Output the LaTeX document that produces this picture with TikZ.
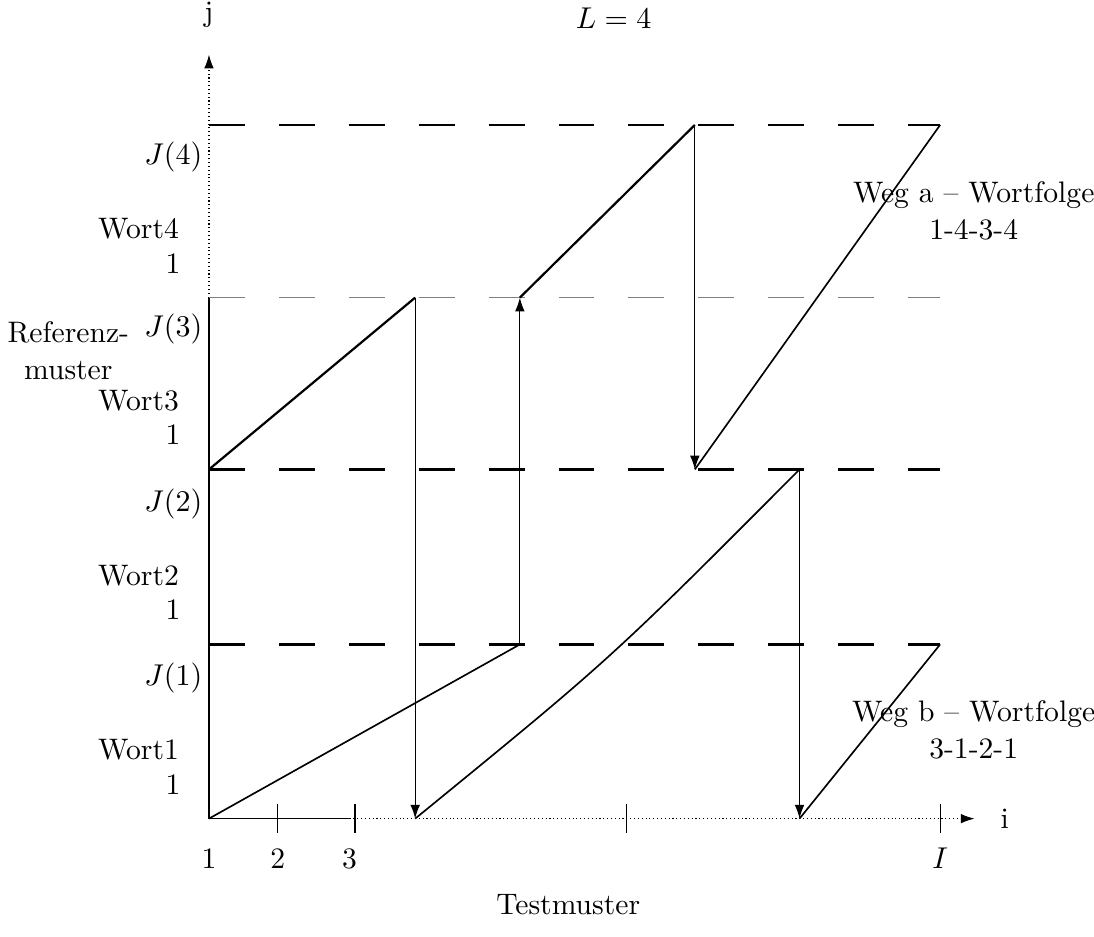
\documentclass[tikz,border=0pt]{standalone}
\usetikzlibrary{arrows.meta}
\begin{document}
\begin{tikzpicture}[every node/.style={font=\fontsize{10.8}{13.4}\selectfont},axis/.style={-{Latex[length=5pt,width=3.5pt]}, densely dotted},grid/.style={dash pattern=on 0.46cm off 0.435cm, thick},weg/.style={semithick},jump/.style={-{Latex[length=5pt,width=3.5pt]}},tick/.style={thin}]
\useasboundingbox (-2.675,-1.51) rectangle (11.33,10.48);
% axes
\coordinate (o) at (0,0); \coordinate (xend) at (9.8,0); \coordinate (yend) at (0,9.78);
\draw (o) -- (1.80,0); \draw[axis] (1.80,0) -- (xend) node[right=6pt] {i};
\draw (o) -- (0,6.67); \draw[axis] (0,6.67) -- (yend); \node (jlab) at (0,10.29) {j};
\node (title) at (5.18,10.25) {$L=4$};
% word boundaries
\foreach \k/\y in {1/2.23,2/4.47,4/8.88} \draw[grid] (0,\y) -- (9.36,\y);
\draw[grid, thin, gray] (0,6.67) -- (9.36,6.67);
\foreach \k/\y in {1/0,2/2.23,3/4.47,4/6.67} {
\node[anchor=east] (J\k) at (0.04,\y+1.8) {$J(\k)$};
\node[anchor=east] (W\k) at (-0.26,\y+0.88) {Wort\k}; \node[anchor=east] (E\k) at (-0.24,\y+0.44) {1};
}
\node[align=center] (ref) at (-1.80,5.99) {Referenz-\\muster};
% ticks and labels
\foreach \x/\t in {0/1,0.88/2,1.80/3} \node (t\t) at (\x,-0.51) {\t};
\foreach \x in {0.88,1.87,5.35,9.36} \draw[tick] (\x,0.19) -- (\x,-0.18);
\node (tI) at (9.36,-0.51) {$I$};
\node (test) at (4.60,-1.10) {Testmuster};
% path a
\coordinate (a1) at (3.98,2.23); \coordinate (a2) at (3.98,6.67); \coordinate (a3) at (6.22,8.88);
\coordinate (a4) at (6.22,4.47); \coordinate (a5) at (9.36,8.88);
\draw[weg] (o) -- (a1); \draw[jump] (a1) -- (a2); \draw[weg, thick] (a2) -- (a3); \draw[jump] (a3) -- (a4); \draw[weg] (a4) -- (a5);
% path b
\coordinate (b1) at (0,4.47); \coordinate (b2) at (2.64,6.67); \coordinate (b3) at (2.64,0);
\coordinate (b4) at (7.56,4.47); \coordinate (b5) at (7.56,0); \coordinate (b6) at (9.36,2.23);
\draw[weg, thick] (b1) -- (b2); \draw[jump] (b2) -- (b3); \draw[weg] (b3) .. controls (5.15,2.05) .. (b4); \draw[jump] (b4) -- (b5); \draw[weg] (b5) -- (b6);
\node[align=center] (wega) at (9.79,7.78) {Weg a -- Wortfolge\\1-4-3-4};
\node[align=center] (wegb) at (9.79,1.14) {Weg b -- Wortfolge\\3-1-2-1};
\end{tikzpicture}
\end{document}
